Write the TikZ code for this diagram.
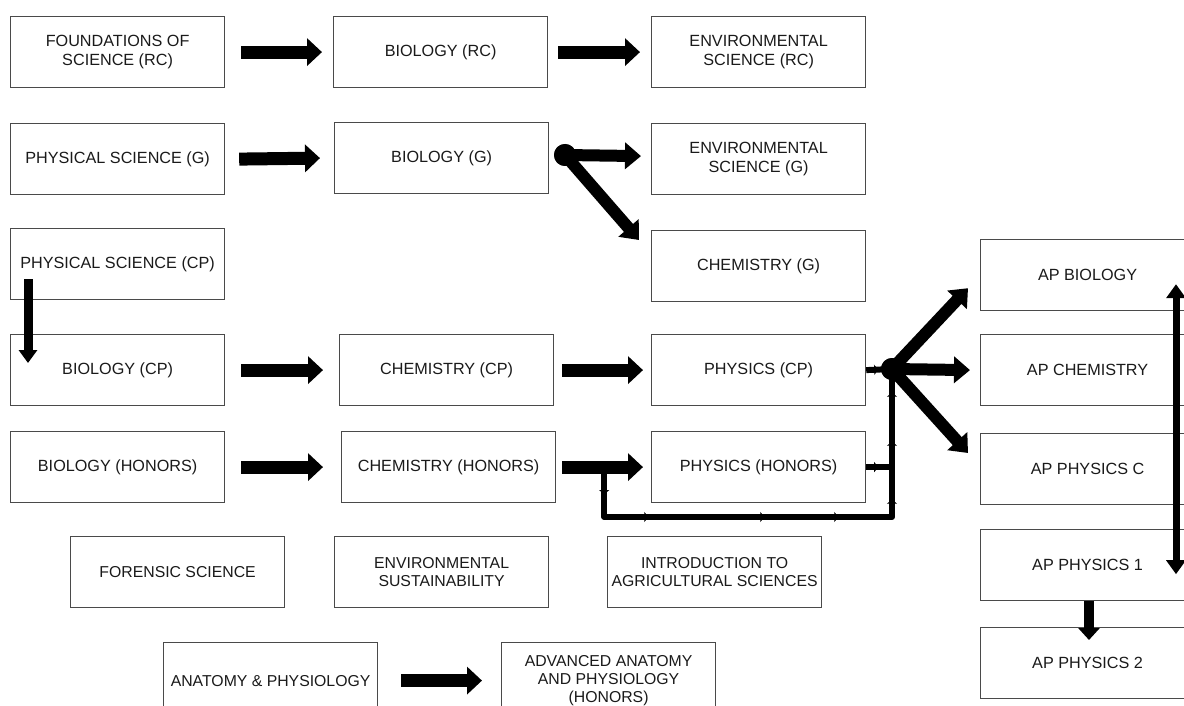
\documentclass[tikz,border=0pt]{standalone}
\usepackage{fontspec}
\setmainfont{Liberation Sans}
\usetikzlibrary{arrows.meta,decorations.markings}
\definecolor{boxline}{HTML}{4A4A4A}
\definecolor{txt}{HTML}{1A1A1A}
\tikzset{
  course/.style={draw=boxline, line width=1.2pt, minimum width=214pt, minimum height=71pt,
    inner sep=0pt, align=center, font=\fontsize{16.2}{19.5}\selectfont, text=txt, anchor=north west},
  lowcourse/.style={course, font=\fontsize{15.8}{18}\selectfont},
  bigarrow/.style={line width=13pt, -{Triangle[length=15pt,width=27pt]}},
  aparrow/.style={line width=12pt, -{Triangle[length=16pt,width=26pt]}},
  downarrow/.style={line width=9pt, -{Triangle[length=13pt,width=18pt]}},
  twoarrow/.style={line width=7pt, {Triangle[length=14pt,width=19pt]}-{Triangle[length=14pt,width=19pt]}},
  p12arrow/.style={line width=10pt, -{Triangle[length=12pt,width=21pt]}},
  joint/.style={circle, fill=black, minimum size=22pt, inner sep=0pt},
  feed/.style={line width=6pt},
  tinytip/.tip={Triangle[length=4pt,width=10pt]},
}
\begin{document}
\begin{tikzpicture}[x=1pt,y=-1pt]
\useasboundingbox (0,0) rectangle (1184,706);
\clip (0,0) rectangle (1184,706);
\fill[white] (0,0) rectangle (1184,706);

% row 1
\node[course] (f1) at (10,16) {FOUNDATIONS OF\\SCIENCE (RC)};
\node[course] (b1) at (333,16) {BIOLOGY (RC)};
\node[course] (e1) at (651,16) {ENVIRONMENTAL\\SCIENCE (RC)};
% row 2
\node[course] (psg) at (10,123) {PHYSICAL SCIENCE (G)};
\node[course] (bg) at (334,122) {BIOLOGY (G)};
\node[course] (eg) at (651,123) {ENVIRONMENTAL\\SCIENCE (G)};
\node[course] (cg) at (651,230) {CHEMISTRY (G)};
% CP
\node[course] (pscp) at (10,228) {PHYSICAL SCIENCE (CP)};
\node[course] (bcp) at (10,334) {BIOLOGY (CP)};
\node[course] (ccp) at (339,334) {CHEMISTRY (CP)};
\node[course] (phcp) at (651,334) {PHYSICS (CP)};
% Honors
\node[course] (bh) at (10,431) {BIOLOGY (HONORS)};
\node[course] (chh) at (341,431) {CHEMISTRY (HONORS)};
\node[course] (phh) at (651,431) {PHYSICS (HONORS)};
% bottom
\node[lowcourse] (fs) at (70,536) {FORENSIC SCIENCE};
\node[lowcourse] (es) at (334,536) {ENVIRONMENTAL\\SUSTAINABILITY};
\node[lowcourse] (ag) at (607,536) {INTRODUCTION TO\\AGRICULTURAL SCIENCES};
\node[lowcourse, minimum height=76pt] (ap) at (163,642) {ANATOMY \& PHYSIOLOGY};
\node[lowcourse, minimum height=76pt] (aap) at (501,642) {ADVANCED ANATOMY\\AND PHYSIOLOGY\\(HONORS)};
% AP
\node[course] (apb) at (980,239) {AP BIOLOGY};
\node[course] (apc) at (980,334) {AP CHEMISTRY};
\node[course] (apd) at (980,433) {AP PHYSICS C};
\node[course] (ap1) at (980,529) {AP PHYSICS 1};
\node[course] (ap2) at (980,627) {AP PHYSICS 2};

% straight arrows
\draw[bigarrow] ([xshift=16pt]f1.east) -- ([xshift=-11pt]b1.west);
\draw[bigarrow] ([xshift=10pt]b1.east) -- ([xshift=-11pt]e1.west);
\draw[bigarrow] ([xshift=14pt]psg.east) -- ([xshift=-14pt]bg.west);
\draw[bigarrow] ([xshift=16pt]bcp.east) -- ([xshift=-16pt]ccp.west);
\draw[bigarrow] ([xshift=8pt]ccp.east) -- ([xshift=-8pt]phcp.west);
\draw[bigarrow] ([xshift=16pt]bh.east) -- ([xshift=-18pt]chh.west);
\draw[bigarrow] ([xshift=6pt]chh.east) -- ([xshift=-8pt]phh.west);
\draw[bigarrow] ([xshift=23pt]ap.east) -- ([xshift=-19pt]aap.west);

\draw[downarrow] ([shift={(18,-21)}]pscp.south west) -- ([shift={(18,29)}]bcp.north west);

% Biology (G) split
\node[joint] (j1) at (565,155) {};
\draw[aparrow] (j1.center) -- ([shift={(-10,-3)}]eg.west);
\draw[aparrow] (j1.center) -- ([shift={(-12,10)}]cg.north west);
\node[joint] at (j1) {};

% Physics junction
\node[joint] (j2) at (892,369) {};
\coordinate (br) at ([xshift=48pt]chh.east);
\coordinate (bot) at (892,517);
\draw[feed, line join=round, decoration={markings,
    mark=at position 27pt with {\arrow{tinytip}},
    mark=at position 94pt with {\arrow{tinytip}},
    mark=at position 210pt with {\arrow{tinytip}},
    mark=at position 284pt with {\arrow{tinytip}},
    mark=at position 355pt with {\arrow{tinytip}},
    mark=at position 413pt with {\arrow{tinytip}},
    mark=at position 462pt with {\arrow{tinytip}}}, postaction={decorate}]
  (br) -- (br |- bot) -- (bot) -- (j2.center);
\draw[feed, decoration={markings, mark=at position 12pt with {\arrow{tinytip}}}, postaction={decorate}]
  (phh.east) -- (phh.east -| j2);
\draw[feed, decoration={markings, mark=at position 12pt with {\arrow{tinytip}}}, postaction={decorate}]
  (phcp.east) -- (j2.center);
\draw[aparrow] (j2.center) -- ([shift={(-12,-23)}]apb.south west);
\draw[aparrow] (j2.center) -- ([xshift=-10pt]apc.west);
\draw[aparrow] (j2.center) -- ([shift={(-12,20)}]apd.north west);
\node[joint] at (j2) {};

% right side
\draw[twoarrow] ([shift={(196,-27)}]apb.south west) -- ([shift={(196,-27)}]ap1.south west);
\draw[p12arrow] ([xshift=109pt]ap1.south west) -- ([shift={(109,13)}]ap2.north west);
\end{tikzpicture}
\end{document}
